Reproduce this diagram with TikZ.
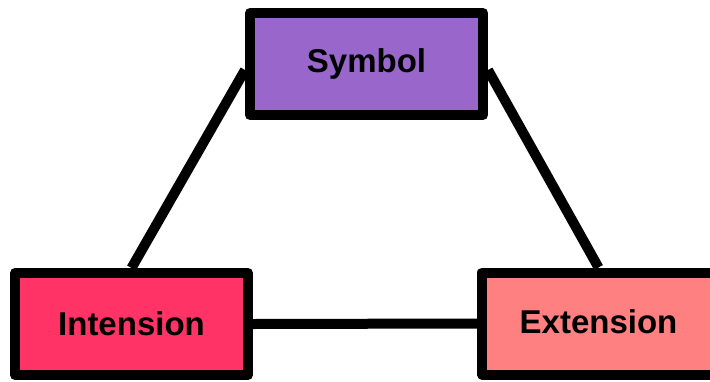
\documentclass[tikz,border=0pt]{standalone}
\usepackage{fontspec}
\setmainfont{Liberation Sans}
\usepackage{xcolor}
\usetikzlibrary{positioning,calc}

\definecolor{symbolpurple}{HTML}{9966CC}
\definecolor{intensionred}{HTML}{FF3366}
\definecolor{extensionpink}{HTML}{FF8080}

\begin{document}
\begin{tikzpicture}[x=1pt,y=-1pt]
\useasboundingbox (0,0) rectangle (710,381);
\begin{scope}[every node/.style={rectangle,draw,line width=10pt,line join=round,
              minimum width=233pt,minimum height=102pt,inner sep=0pt,
              font=\bfseries\fontsize{33}{39}\selectfont}]
    \node[fill=symbolpurple] (S) at (366.5,64) {Symbol};
    \node[fill=intensionred] (I) at (131.5,324) {Intension};
    \node[fill=extensionpink] (E) at (598.5,323.5) {\raisebox{3pt}{Extension}};
\end{scope}

\begin{scope}[every edge/.style={draw=black,line width=10pt}]
    \path ($(S.west)+(0,6)$) edge (I.north);
    \path ($(S.east)+(0,6)$) edge (E.north);
    \path (I.east) edge (E.west);
\end{scope}
\end{tikzpicture}
\end{document}
